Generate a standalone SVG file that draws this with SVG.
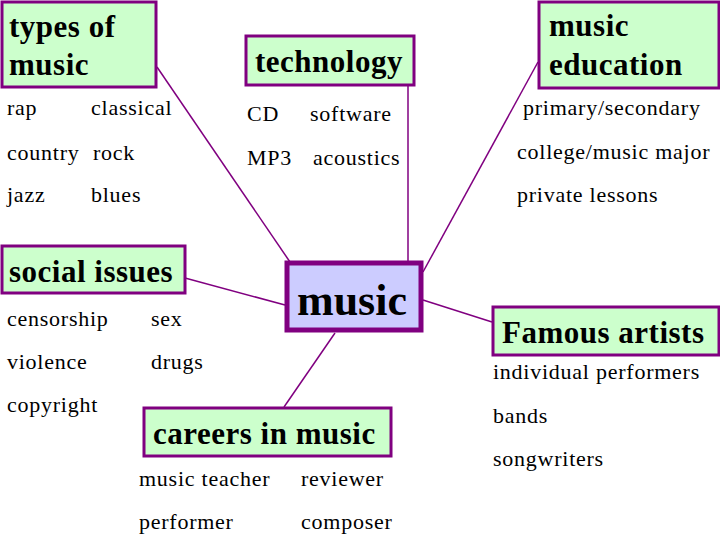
<svg xmlns="http://www.w3.org/2000/svg" width="720" height="540" viewBox="0 0 720 540">
<style>
.box{fill:#CCFFCC;stroke:#800080;stroke-width:3}
.center{fill:#CCCCFF;stroke:#800080;stroke-width:5}
.h{font-family:"Liberation Serif","Times New Roman",serif;font-weight:bold;font-size:31px;letter-spacing:0.5px;fill:#000}
.c{font-family:"Liberation Serif","Times New Roman",serif;font-weight:bold;font-size:44px;fill:#000}
.t{font-family:"Liberation Serif","Times New Roman",serif;font-size:22px;letter-spacing:0.75px;fill:#000}
.ln{stroke:#800080;stroke-width:1.5;fill:none}
</style>
<rect width="720" height="540" fill="#fff"/>
<g id="connectors">
<line class="ln" x1="157" y1="67" x2="290" y2="262"/>
<line class="ln" x1="408" y1="85" x2="408" y2="262"/>
<line class="ln" x1="538" y1="62" x2="423" y2="272"/>
<line class="ln" x1="185" y1="278" x2="285" y2="305"/>
<line class="ln" x1="423" y1="300" x2="492" y2="322"/>
<line class="ln" x1="335" y1="333" x2="284" y2="407"/>
</g>
<g id="types-of-music">
<rect class="box" x="2" y="2" width="154" height="85"/>
<text class="h" x="9" y="37">types of</text>
<text class="h" x="9" y="75">music</text>
<text class="t" x="7" y="115">rap</text>
<text class="t" x="91" y="115">classical</text>
<text class="t" x="7" y="160">country</text>
<text class="t" x="93" y="160">rock</text>
<text class="t" x="7" y="202">jazz</text>
<text class="t" x="91" y="202">blues</text>
</g>
<g id="technology">
<rect class="box" x="246" y="36" width="168" height="49"/>
<text class="h" x="255" y="72">technology</text>
<text class="t" x="247" y="121">CD</text>
<text class="t" x="310" y="121">software</text>
<text class="t" x="247" y="165">MP3</text>
<text class="t" x="313" y="165">acoustics</text>
</g>
<g id="music-education">
<rect class="box" x="539" y="2" width="180" height="86"/>
<text class="h" x="549" y="36">music</text>
<text class="h" x="549" y="75">education</text>
<text class="t" x="523" y="115">primary/secondary</text>
<text class="t" x="517" y="159">college/music major</text>
<text class="t" x="517" y="202">private lessons</text>
</g>
<g id="music">
<rect class="center" x="287" y="263" width="134" height="67"/>
<text class="c" x="297" y="315">music</text>
</g>
<g id="social-issues">
<rect class="box" x="2" y="246" width="183" height="47"/>
<text class="h" x="9" y="282">social issues</text>
<text class="t" x="7" y="326">censorship</text>
<text class="t" x="151" y="326">sex</text>
<text class="t" x="7" y="369">violence</text>
<text class="t" x="151" y="369">drugs</text>
<text class="t" x="7" y="412">copyright</text>
</g>
<g id="famous-artists">
<rect class="box" x="493" y="307" width="226" height="48"/>
<text class="h" x="502" y="343">Famous artists</text>
<text class="t" x="493" y="379">individual performers</text>
<text class="t" x="493" y="423">bands</text>
<text class="t" x="493" y="466">songwriters</text>
</g>
<g id="careers-in-music">
<rect class="box" x="144" y="408" width="247" height="48"/>
<text class="h" x="153" y="444">careers in music</text>
<text class="t" x="139" y="486">music teacher</text>
<text class="t" x="301" y="486">reviewer</text>
<text class="t" x="139" y="529">performer</text>
<text class="t" x="301" y="529">composer</text>
</g>
</svg>
